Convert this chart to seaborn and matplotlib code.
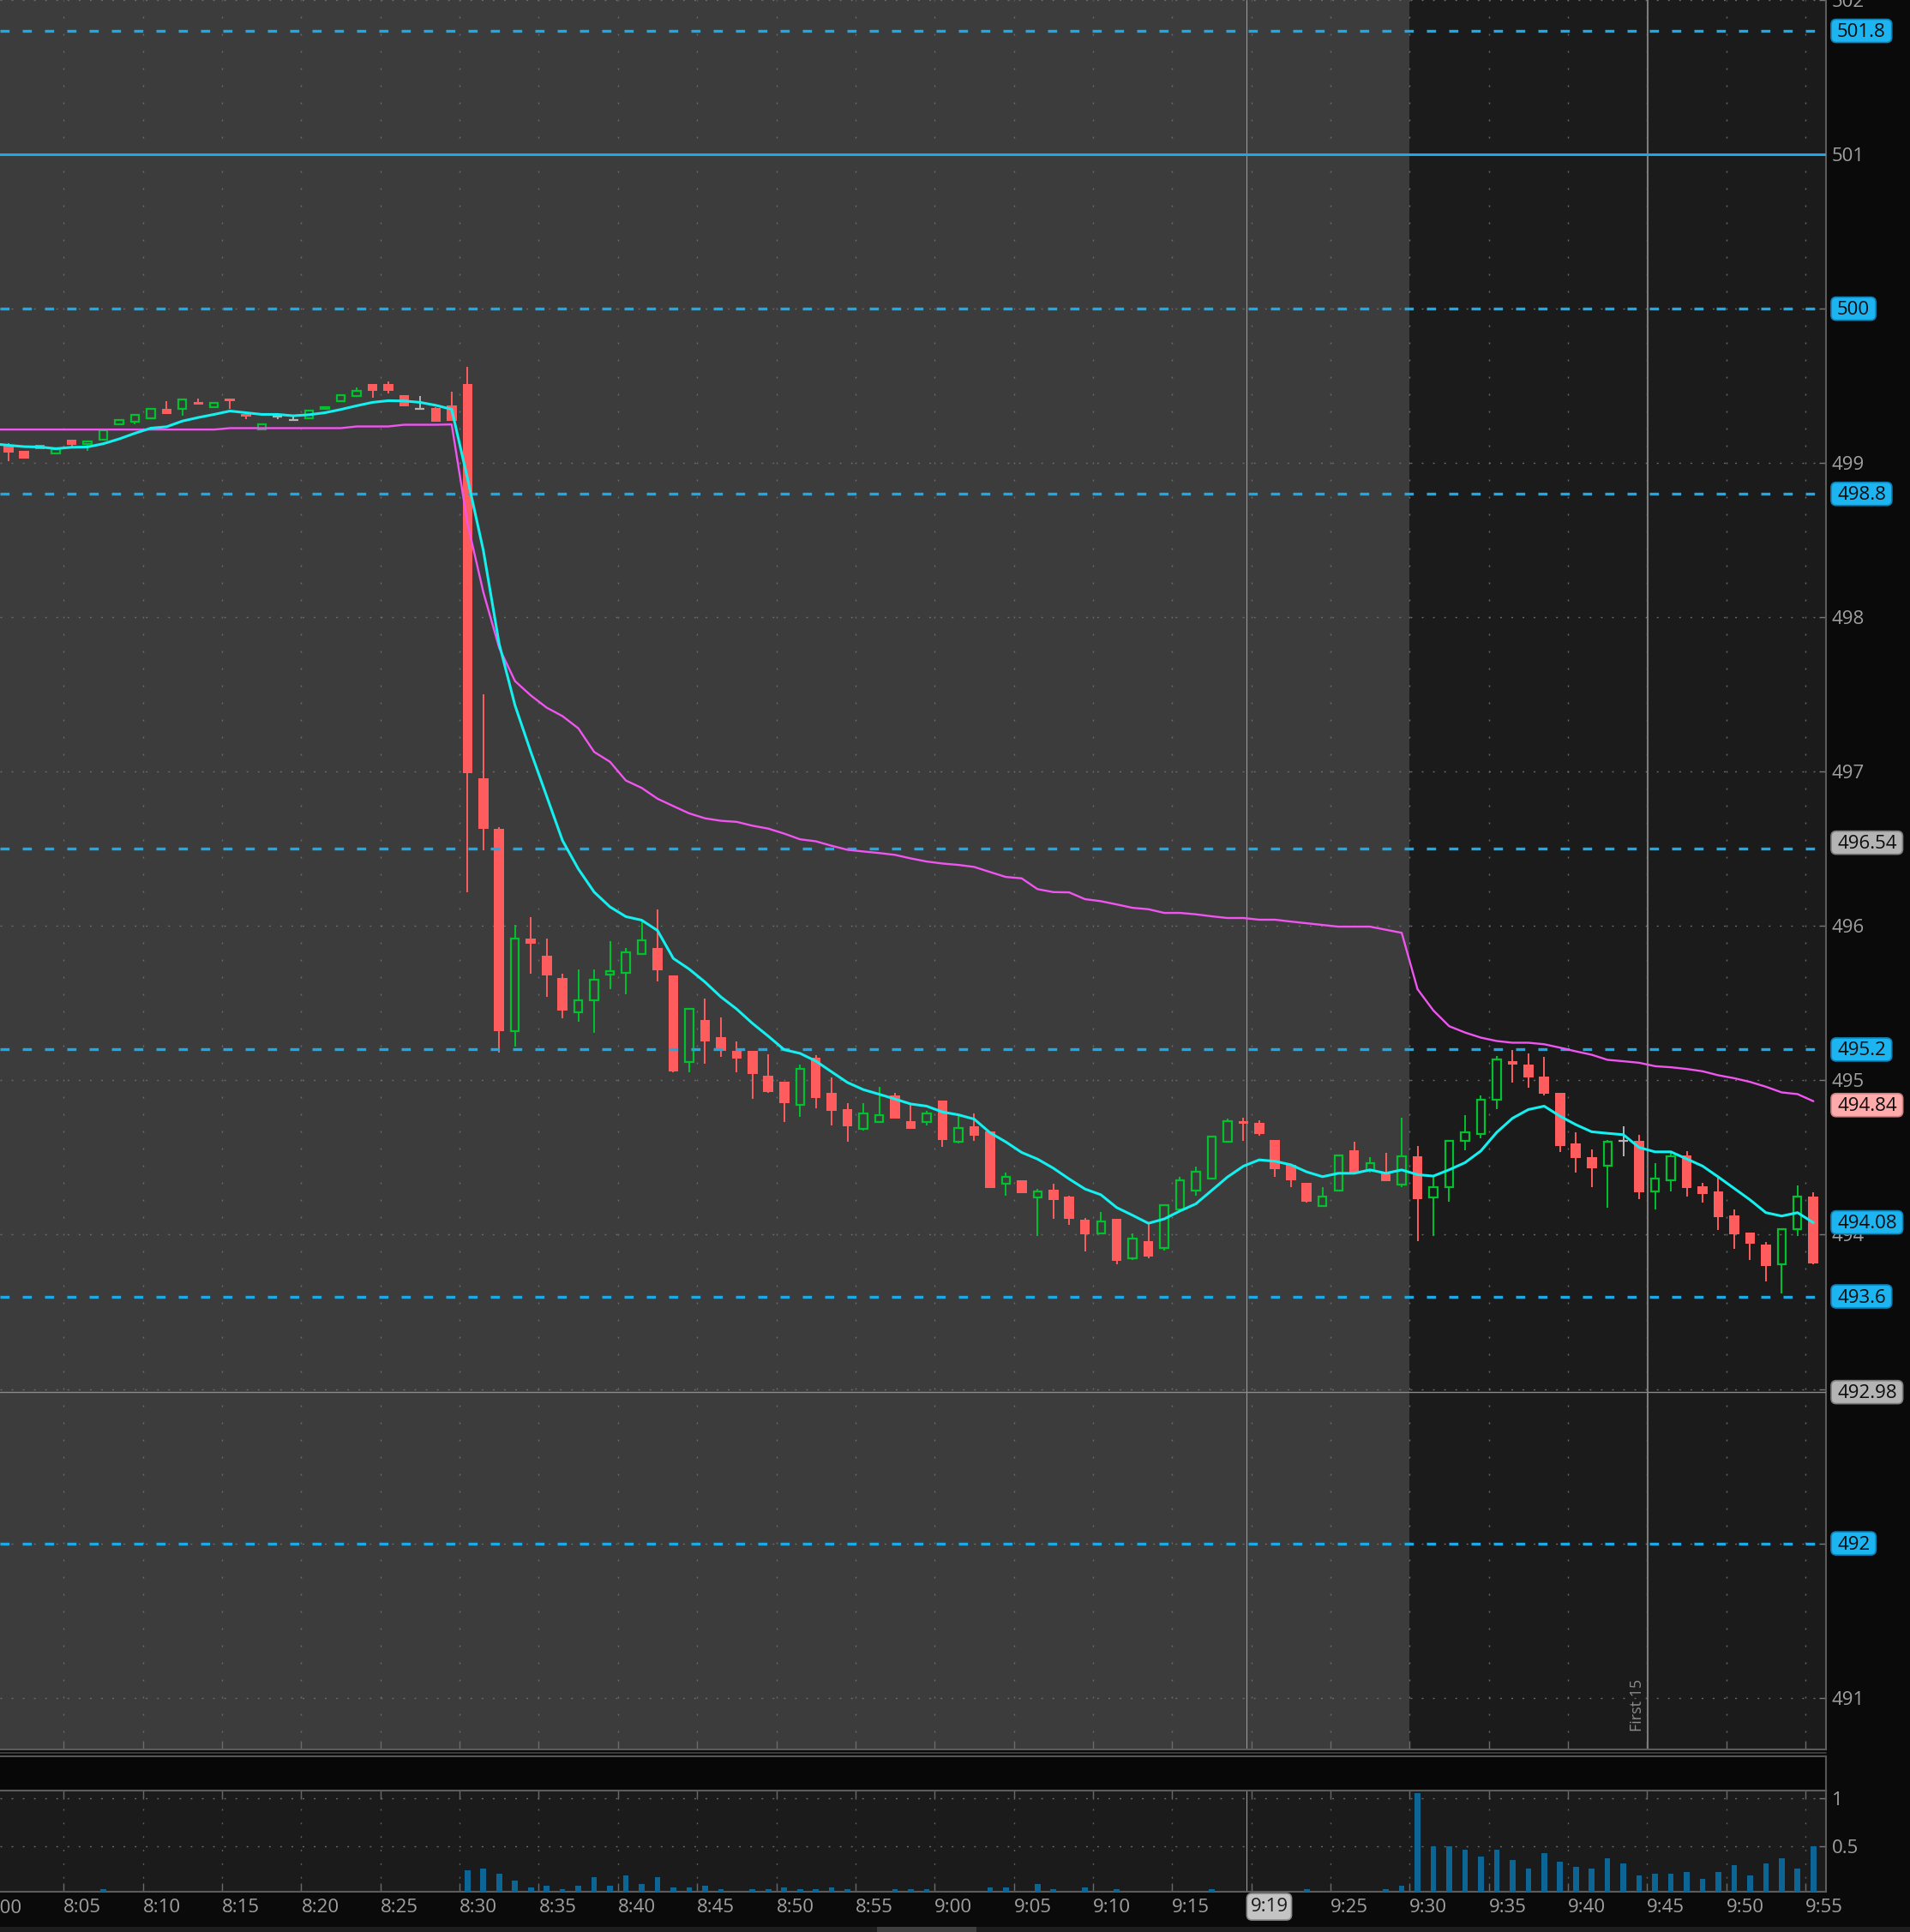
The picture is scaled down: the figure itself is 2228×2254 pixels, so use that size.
import numpy as np
import pandas as pd
import matplotlib
matplotlib.use("Agg")
import matplotlib.pyplot as plt
import matplotlib.transforms as mtransforms
from matplotlib.patches import FancyBboxPatch, Rectangle
from matplotlib.lines import Line2D
import seaborn as sns

# 1 minute bars, minute = minutes after 8:00 (8:01 .. 9:55)
minutes = list(range(1, 116))
opens = [499.11, 499.08, 499.12, 499.06, 499.15, 499.125, 499.15, 499.25, 499.27, 499.29,
         499.35, 499.35, 499.395, 499.36, 499.42, 499.32, 499.22, 499.30, 499.28, 499.29,
         499.35, 499.40, 499.435, 499.51, 499.51, 499.44, 499.35, 499.355, 499.375, 499.51,
         496.96, 496.63, 495.32, 495.92, 495.81, 495.665, 495.44, 495.52, 495.685, 495.695,
         495.82, 495.855, 495.68, 495.12, 495.39, 495.28, 495.19, 495.19, 495.03, 494.99,
         494.84, 495.145, 494.92, 494.815, 494.685, 494.73, 494.90, 494.735, 494.73, 494.87,
         494.60, 494.70, 494.67, 494.33, 494.355, 494.24, 494.29, 494.245, 494.095, 494.01,
         494.10, 493.85, 493.96, 493.915, 494.165, 494.285, 494.365, 494.605, 494.735, 494.725,
         494.615, 494.455, 494.335, 494.185, 494.285, 494.545, 494.42, 494.41, 494.325, 494.51,
         494.24, 494.31, 494.61, 494.655, 494.875, 495.125, 495.105, 495.025, 494.92, 494.59,
         494.50, 494.445, 494.61, 494.61, 494.28, 494.35, 494.515, 494.315, 494.28, 494.125,
         494.015, 493.935, 493.81, 494.035, 494.245]
highs = [499.13, 499.08, 499.12, 499.09, 499.15, 499.14, 499.225, 499.28, 499.31, 499.35,
         499.40, 499.41, 499.415, 499.39, 499.42, 499.32, 499.25, 499.32, 499.31, 499.34,
         499.36, 499.44, 499.49, 499.51, 499.53, 499.44, 499.435, 499.36, 499.46, 499.625,
         497.50, 496.64, 496.01, 496.06, 495.92, 495.69, 495.72, 495.72, 495.90, 495.86,
         496.03, 496.105, 495.68, 495.465, 495.53, 495.41, 495.25, 495.19, 495.17, 494.99,
         495.105, 495.165, 495.02, 494.85, 494.85, 494.96, 494.92, 494.84, 494.805, 494.87,
         494.77, 494.785, 494.67, 494.405, 494.355, 494.295, 494.33, 494.255, 494.11, 494.145,
         494.10, 494.01, 494.075, 494.195, 494.375, 494.44, 494.635, 494.755, 494.76, 494.74,
         494.615, 494.455, 494.335, 494.31, 494.515, 494.605, 494.505, 494.53, 494.76, 494.575,
         494.375, 494.61, 494.775, 494.905, 495.16, 495.195, 495.175, 495.15, 494.92, 494.665,
         494.55, 494.615, 494.705, 494.645, 494.465, 494.53, 494.54, 494.335, 494.375, 494.165,
         494.015, 493.955, 494.04, 494.32, 494.275]
lows = [499.01, 499.03, 499.09, 499.06, 499.105, 499.08, 499.15, 499.25, 499.25, 499.29,
        499.32, 499.305, 499.38, 499.36, 499.35, 499.285, 499.22, 499.285, 499.278, 499.29,
        499.35, 499.40, 499.435, 499.425, 499.45, 499.37, 499.35, 499.265, 499.275, 496.22,
        496.49, 495.18, 495.22, 495.69, 495.54, 495.40, 495.38, 495.31, 495.59, 495.555,
        495.815, 495.64, 495.055, 495.055, 495.11, 495.15, 495.05, 494.88, 494.92, 494.73,
        494.765, 494.82, 494.71, 494.60, 494.675, 494.73, 494.75, 494.685, 494.71, 494.57,
        494.59, 494.61, 494.30, 494.255, 494.27, 493.99, 494.10, 494.065, 493.89, 494.00,
        493.81, 493.835, 493.85, 493.90, 494.155, 494.255, 494.365, 494.605, 494.61, 494.64,
        494.375, 494.31, 494.21, 494.185, 494.285, 494.405, 494.40, 494.345, 494.31, 493.96,
        493.99, 494.215, 494.545, 494.625, 494.815, 494.985, 494.955, 494.90, 494.535, 494.40,
        494.31, 494.175, 494.51, 494.23, 494.165, 494.28, 494.245, 494.21, 494.03, 493.91,
        493.835, 493.70, 493.62, 493.99, 493.81]
closes = [499.07, 499.03, 499.09, 499.09, 499.12, 499.14, 499.21, 499.28, 499.31, 499.35,
          499.32, 499.41, 499.38, 499.39, 499.40, 499.30, 499.25, 499.30, 499.28, 499.34,
          499.36, 499.44, 499.47, 499.47, 499.47, 499.37, 499.35, 499.265, 499.275, 496.99,
          496.63, 495.32, 495.92, 495.885, 495.68, 495.45, 495.52, 495.65, 495.705, 495.83,
          495.91, 495.715, 495.06, 495.465, 495.25, 495.19, 495.14, 495.04, 494.925, 494.85,
          495.075, 494.885, 494.805, 494.70, 494.785, 494.775, 494.75, 494.685, 494.785, 494.615,
          494.69, 494.64, 494.305, 494.375, 494.27, 494.28, 494.225, 494.105, 494.005, 494.085,
          493.83, 493.975, 493.86, 494.19, 494.355, 494.41, 494.635, 494.735, 494.72, 494.65,
          494.425, 494.35, 494.215, 494.245, 494.515, 494.405, 494.465, 494.345, 494.51, 494.23,
          494.31, 494.61, 494.665, 494.875, 495.135, 495.105, 495.02, 494.915, 494.575, 494.495,
          494.43, 494.60, 494.61, 494.275, 494.365, 494.51, 494.305, 494.265, 494.115, 494.005,
          493.94, 493.795, 494.035, 494.245, 493.815]
volume = [0, 0, 0, 0, 0, 0, 0.057, 0, 0, 0,
          0, 0, 0, 0, 0, 0, 0, 0, 0, 0,
          0, 0, 0, 0, 0, 0, 0, 0, 0, 0.253,
          0.271, 0.217, 0.146, 0.074, 0.092, 0.057, 0.092, 0.182, 0.092, 0.199,
          0.110, 0.182, 0.074, 0.074, 0.092, 0.057, 0, 0.057, 0.057, 0.074,
          0.057, 0.057, 0.074, 0.057, 0, 0, 0.057, 0.057, 0.057, 0,
          0, 0, 0.074, 0.074, 0, 0.110, 0.057, 0, 0.074, 0,
          0.057, 0, 0, 0, 0, 0, 0.057, 0, 0, 0,
          0, 0, 0.057, 0, 0, 0, 0, 0.057, 0.092, 1.054,
          0.503, 0.503, 0.467, 0.396, 0.467, 0.360, 0.271, 0.432, 0.342, 0.289,
          0.271, 0.378, 0.324, 0.199, 0.217, 0.217, 0.235, 0.164, 0.235, 0.307,
          0.199, 0.324, 0.378, 0.271, 0.503]

# study lines, 8:00 .. 9:55
line_minutes = list(range(0, 116))
ema = [499.125, 499.115, 499.106, 499.104, 499.093, 499.102, 499.104, 499.125, 499.156, 499.193,
       499.226, 499.235, 499.272, 499.295, 499.315, 499.337, 499.326, 499.315, 499.315, 499.306,
       499.313, 499.326, 499.347, 499.371, 499.393, 499.404, 499.402, 499.393, 499.374, 499.348,
       498.90, 498.434, 497.829, 497.430, 497.128, 496.841, 496.554, 496.370, 496.220, 496.124,
       496.061, 496.038, 495.971, 495.790, 495.721, 495.637, 495.541, 495.462, 495.369, 495.286,
       495.199, 495.175, 495.125, 495.055, 494.986, 494.940, 494.910, 494.879, 494.847, 494.833,
       494.795, 494.777, 494.749, 494.661, 494.601, 494.533, 494.490, 494.431, 494.361, 494.296,
       494.259, 494.176, 494.126, 494.074, 494.102, 494.154, 494.200, 494.287, 494.374, 494.444,
       494.485, 494.476, 494.453, 494.407, 494.376, 494.398, 494.398, 494.420, 494.398, 494.420,
       494.389, 494.380, 494.421, 494.467, 494.543, 494.663, 494.755, 494.811, 494.833, 494.768,
       494.713, 494.667, 494.657, 494.648, 494.565, 494.537, 494.537, 494.491, 494.445, 494.374,
       494.300, 494.226, 494.143, 494.121, 494.143, 494.078]
vwap = [499.217, 499.217, 499.217, 499.217, 499.217, 499.217, 499.217, 499.217, 499.217, 499.217,
        499.217, 499.217, 499.217, 499.217, 499.217, 499.226, 499.226, 499.226, 499.226, 499.226,
        499.226, 499.226, 499.226, 499.237, 499.237, 499.237, 499.248, 499.248, 499.248, 499.25,
        498.609, 498.163, 497.803, 497.587, 497.494, 497.415, 497.360, 497.281, 497.128, 497.064,
        496.943, 496.895, 496.825, 496.777, 496.730, 496.698, 496.682, 496.675, 496.650, 496.631,
        496.599, 496.562, 496.549, 496.520, 496.494, 496.483, 496.473, 496.461, 496.438, 496.418,
        496.405, 496.396, 496.383, 496.350, 496.318, 496.309, 496.239, 496.220, 496.218, 496.174,
        496.161, 496.140, 496.118, 496.109, 496.085, 496.085, 496.076, 496.063, 496.052, 496.052,
        496.041, 496.041, 496.029, 496.018, 496.007, 495.996, 495.996, 495.996, 495.976, 495.956,
        495.591, 495.453, 495.351, 495.310, 495.277, 495.255, 495.244, 495.244, 495.234, 495.212,
        495.188, 495.166, 495.133, 495.124, 495.114, 495.092, 495.085, 495.074, 495.059, 495.033,
        495.014, 494.990, 494.959, 494.922, 494.911, 494.865]

dashed_levels = [501.8, 500, 498.8, 496.5, 495.2, 493.6, 492]
solid_level = 501
gray_level = 492.98

tag_text = ['501.8', '500', '498.8', '496.54', '495.2', '494.84', '494.08', '493.6', '492.98', '492']
tag_value = [501.8, 500, 498.8, 496.54, 495.2, 494.84, 494.08, 493.6, 492.98, 492]
tag_kind = ['blue', 'blue', 'blue', 'gray', 'blue', 'pink', 'blue', 'blue', 'gray', 'blue']

price_ticks = list(range(491, 503))
price_labels = ['491', '', '', '494', '495', '496', '497', '498', '499', '', '501', '502']
time_ticks = list(range(5, 116, 5))
time_labels = ['8:05', '8:10', '8:15', '8:20', '8:25', '8:30', '8:35', '8:40', '8:45', '8:50', '8:55',
               '9:00', '9:05', '9:10', '9:15', '', '9:25', '9:30', '9:35', '9:40', '9:45', '9:50', '9:55']
vol_ticks = [0.5, 1]
cursor_minute = 79.72
cursor_label = '9:19'
first15_minute = 105.03
open_minute = 90

# colours
RED = '#ff5d5d'
GREEN = '#00c22e'
DOJI = '#b4b4b4'
BLUE = '#1ca9e6'
CYAN = '#14f0f0'
MAGENTA = '#f055f0'
VOLBLUE = '#0d6596'
TAGS = {'blue': ('#1db4f2', '#1080b4'), 'pink': ('#ffabab', '#d08080'), 'gray': ('#b4b4b4', '#7c7c7c')}

sns.set_style("dark")
plt.rcParams['font.family'] = ['Open Sans', 'DejaVu Sans']

W, H = 2228, 2254
fig = plt.figure(figsize=(W / 100, H / 100), dpi=100)
fig.patch.set_facecolor('#0a0a0a')


def px_box(x0, y0, x1, y1):
    return [x0 / W, 1 - y1 / H, (x1 - x0) / W, (y1 - y0) / H]


ax = fig.add_axes(px_box(0, 0, 2130, 2041))
gap = fig.add_axes(px_box(0, 2049, 2130, 2089))
axv = fig.add_axes(px_box(0, 2089, 2130, 2207))

xlo, xhi = 18 / 18.47, 2148 / 18.47

df = pd.DataFrame({'minute': minutes, 'open': opens, 'high': highs, 'low': lows,
                   'close': closes, 'volume': volume})
df['x'] = df['minute'] + 0.5
up = df[df.close > df.open]
dn = df[df.close < df.open]
dj = df[df.close == df.open]

# ---- price panel ----
ax.set_facecolor('#1b1b1b')
ax.axvspan(xlo, open_minute, color='#3c3c3c', lw=0, zorder=0)
for m in range(0, 120, 5):
    ax.axvline(m, color='#6c6c6c', lw=1.0, dashes=(1.4, 13), zorder=1)
for p in price_ticks:
    ax.axhline(p, color='#6c6c6c', lw=1.0, dashes=(1.4, 8), zorder=1)

ax.axvline(cursor_minute, color='#9a9a9a', lw=0.8, zorder=2)
ax.axvline(first15_minute, color='#7c7c7c', lw=1.5, zorder=2)
ax.text(first15_minute - 0.15, 490.78, 'First 15', rotation=90, ha='right', va='bottom',
        fontsize=13, color='#8c8c8c', zorder=2)

# candles
ax.vlines(dn.x, dn.low, dn.high, color=RED, lw=1.4, zorder=3)
ax.bar(dn.x, dn.open - dn.close, bottom=dn.close, width=0.63, color=RED, lw=0, zorder=3.1)
ax.vlines(up.x, up.low, up.open, color=GREEN, lw=1.4, zorder=3)
ax.vlines(up.x, up.close, up.high, color=GREEN, lw=1.4, zorder=3)
ax.bar(up.x, up.close - up.open, bottom=up.open, width=0.5, facecolor='none',
       edgecolor=GREEN, lw=1.6, zorder=3.1)
ax.vlines(dj.x, dj.low, dj.high, color=DOJI, lw=1.4, zorder=3)
ax.hlines(dj.close, dj.x - 0.3, dj.x + 0.3, color=DOJI, lw=1.6, zorder=3)

# levels
for lv in dashed_levels:
    ax.axhline(lv, color=BLUE, lw=2.4, dashes=(3.2, 4.6), zorder=4)
ax.axhline(solid_level, color=BLUE, lw=2.2, zorder=4)
ax.axhline(gray_level, color='#8a8a8a', lw=1.0, zorder=4)

# studies
lx = np.array(line_minutes) + 0.5
sns.lineplot(x=lx, y=vwap, ax=ax, color=MAGENTA, linewidth=1.7, zorder=5)
sns.lineplot(x=lx, y=ema, ax=ax, color=CYAN, linewidth=2.2, zorder=6)

ax.set_xlim(xlo, xhi)
ax.set_ylim(490.665, 502.0)
ax.set_xlabel('')
ax.set_ylabel('')
ax.set_xticks(time_ticks)
ax.tick_params(axis='x', direction='in', length=7, width=1, color='#6a6a6a',
               bottom=True, labelbottom=False)
ax.yaxis.tick_right()
ax.set_yticks(price_ticks, labels=price_labels)
ax.tick_params(axis='y', direction='in', length=6, width=1, color='#7a7a7a',
               labelcolor='#a0a0a0', labelsize=16, pad=5, right=True, left=False)
for s in ['left', 'top']:
    ax.spines[s].set_visible(False)
for s in ['right', 'bottom']:
    ax.spines[s].set_color('#5c5c5c')
    ax.spines[s].set_linewidth(1.5)

# ---- empty study strip ----
gap.set_facecolor('#070707')
gap.set_xticks([])
gap.set_yticks([])
gap.spines['left'].set_visible(False)
for s in ['right', 'top', 'bottom']:
    gap.spines[s].set_color('#555555')
    gap.spines[s].set_linewidth(1.5)
fig.add_artist(Line2D([0, 2130 / W], [1 - 2045 / H] * 2, color='#444444', lw=1.2))

# ---- volume panel ----
axv.set_facecolor('#1b1b1b')
for m in range(0, 120, 5):
    axv.axvline(m, color='#5e5e5e', lw=1.0, dashes=(1.4, 10), zorder=1)
for v in vol_ticks:
    axv.axhline(v, color='#6c6c6c', lw=1.0, dashes=(1.4, 8), zorder=1)
axv.axvline(cursor_minute, color='#9a9a9a', lw=0.8, zorder=2)
axv.bar(df.x, df.volume, width=0.36, color=VOLBLUE, lw=0, zorder=3)
axv.set_xlim(xlo, xhi)
axv.set_ylim(0.027, 1.08)
axv.set_xticks(time_ticks, labels=time_labels)
for lab in axv.get_xticklabels():
    lab.set_ha('left')
axv.tick_params(axis='x', direction='in', length=7, width=1, color='#6a6a6a',
                bottom=True, top=True, labelcolor='#a0a0a0', labelsize=16, pad=6)
axv.yaxis.tick_right()
axv.set_yticks(vol_ticks, labels=['0.5', '1'])
axv.tick_params(axis='y', direction='in', length=6, width=1, color='#7a7a7a',
                labelcolor='#a0a0a0', labelsize=16, pad=5, right=True, left=False)
axv.spines['left'].set_visible(False)
for s in ['right', 'top', 'bottom']:
    axv.spines[s].set_color('#5c5c5c')
    axv.spines[s].set_linewidth(1.5)

# ---- price tags on the right ----
renderer = fig.canvas.get_renderer()
ident = mtransforms.IdentityTransform()
for txt, val, kind in zip(tag_text, tag_value, tag_kind):
    fc, ec = TAGS[kind]
    yd = ax.transData.transform((xlo, val))[1]
    t = fig.text(2143 / W, (yd - 1.5) / H, txt, ha='left', va='center', fontsize=16,
                 color='#0c0c0c', zorder=11)
    bb = t.get_window_extent(renderer)
    fig.add_artist(FancyBboxPatch((2136, yd - 13.5), bb.width + 14, 27,
                                  boxstyle='round,pad=0,rounding_size=6',
                                  fc=fc, ec=ec, lw=1.2, transform=ident, zorder=10))

# 8:00 label partly off the left edge and cursor time tag
x800 = axv.transData.transform((0, 0))[0]
fig.text(x800 / W, 1 - 2215.5 / H, '8:00', ha='left', va='top', fontsize=16, color='#a0a0a0')
xc = axv.transData.transform((cursor_minute, 0))[0]
t = fig.text((xc + 4) / W, 1 - 2225 / H, cursor_label, ha='left', va='center', fontsize=16,
             color='#1a1a1a', zorder=11)
bb = t.get_window_extent(renderer)
fig.add_artist(FancyBboxPatch((xc, H - 2240), bb.width + 8, 31,
                              boxstyle='round,pad=0,rounding_size=6',
                              fc='#c4c4c4', ec='#8a8a8a', lw=1.2, transform=ident, zorder=10))

# scroll bar strip
fig.add_artist(Rectangle((0, 0), W, 6, fc='#1e1e1e', lw=0, transform=ident, zorder=9))
fig.add_artist(Rectangle((1023, 0), 116, 6, fc='#3f3f3f', lw=0, transform=ident, zorder=9))

fig.savefig('out.png', dpi=100, facecolor=fig.get_facecolor())
